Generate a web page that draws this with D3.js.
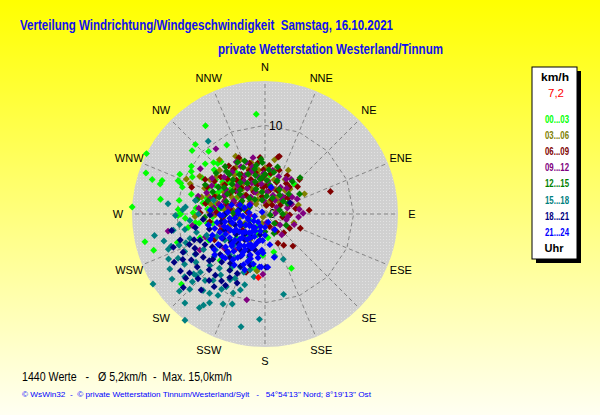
<!DOCTYPE html>
<html><head><meta charset="utf-8">
<script src="https://cdn.jsdelivr.net/npm/d3@7"></script>
<style>
html,body{margin:0;padding:0;overflow:hidden;background:#fff}
svg{display:block}
text{font-family:"Liberation Sans",Arial,Helvetica,sans-serif;white-space:pre}
</style>
</head><body>
<svg id="chart" width="600" height="415"></svg>
<script>
// ---------- DATA ----------
const titleText = "Verteilung Windrichtung/Windgeschwindigkeit  Samstag, 16.10.2021";
const subtitleText = "private Wetterstation Westerland/Tinnum";
const statsText = "1440 Werte   -   \u00D8 5,2km/h  -  Max. 15,0km/h";
const footerText = "\u00A9 WsWin32  -  \u00A9 private Wetterstation Tinnum/Westerland/Sylt   -   54\u00B054'13\" Nord; 8\u00B019'13\" Ost";
const directions = ["N","NNE","NE","ENE","E","ESE","SE","SSE","S","SSW","SW","WSW","W","WNW","NW","NNW"];
const speedMax = 15;
const speedTicks = [0, 10];
const legendUnit = "km/h";
const currentSpeedLabel = "7,2";
const legendBins = ["00...03","03...06","06...09","09...12","12...15","15...18","18...21","21...24"];
const legendFooter = "Uhr";

// [direction in degrees, speed in km/h], one array per 3-hour bin
const bin00_03 = [[355,11.3],[326,12.0],[315,11.1],[311,10.9],[331,8.9],[297,15.0],[318,9.5],[317,7.8],[320,7.7],[303,9.9],[311,7.6],[289,14.2],[287,13.3],[288,12.2],[286,12.3],[291,10.5],[290,10.1],[297,9.2],[278,11.9],[279,9.8],[273,15.0],[273,9.8],[307,6.0],[348,5.4],[257,13.9],[252,13.2],[230,12.3],[191,6.2],[183,4.7],[154,6.8],[44,4.7],[167,4.4],
  [320,6.1],[324,4.8],[292,6.3],[280,7.1],[271,8.1],[267,5.9],[280,4.4],[281,2.3],[353,1.9],[212,1.7],[224,7.3],[212,7.4],[288,9.8],[260,8.8],[252,10.4],[248,1.8],[299,3.7],[299,5.5],[327,3.5],[7,4.4],[261,6.6],[283,7.8],[239,3.9],[173,2.7],
  [267,9.0],[263,7.9],[269,9.8],[300,8.2],[285,8.6],[295,7.0],[275,6.5],[305,4.8],[265,3.5],[290,2.8],[315,5.2],[335,6.8],[340,3.0],[270,9.5],[262,7.5],[250,5.0],[245,7.0],[230,4.2],[220,3.0],[200,2.5],[310,3.2],[275,5.3],[285,4.0],[300,6.5],
  [285,6.8],[295,5.8],[305,6.8],[310,5.5],[318,4.5],[325,5.8],[330,4.0],[300,4.5],[290,6.0],[280,5.8],[275,7.8],[300,9.6],[310,8.8],[295,10.6],[315,8.2],[260,6.0],[250,7.8],[242,5.4]];
const bin03_06 = [[333,7.3],[294,9.7],[292,9.1],[340,5.4],[335,6.7],[10,6.2],[28,5.6],[30,3.0],[63,5.0],[49,2.1],[107,3.4],[188,6.5],
  [285,7.4],[293,7.4],[268,7.9],[214,0.4],[198,1.1],[72,1.4],[289,4.8],[314,3.1],[342,3.7],[316,5.3],[5,3.8],[40,3.5],[269,5.6],[279,2.9],[333,1.8],[253,4.1],[302,7.3],[75,3.9],[314,7.1],[210,3.4],
  [350,4.5],[355,2.6],[15,4.0],[20,1.5],[0,5.2],[325,4.2],[305,5.8],[295,3.0],[280,6.2],[310,2.2],[345,6.0],[30,4.5],[55,3.2],[90,2.4],[260,3.0],[300,8.5],[320,8.0],[275,4.5],[5,1.0],[340,2.5],[290,5.8],[265,7.0],[245,2.5],
  [283,5.5],[288,6.8],[297,4.2],[303,3.6],[308,6.9],[312,4.6],[318,3.8],[322,5.6],[328,6.2],[332,3.2],[338,4.8],[344,5.8],[348,3.5],[352,5.0],[358,3.2],[8,2.5],[12,5.0],[22,3.0],[35,2.2],[45,4.0],[277,3.6],[272,6.3],[298,5.2],[285,2.0],[318,1.5]];
const bin06_09 = [[325,6.2],[355,4.0],[327,4.6],[14,6.7],[355,6.4],[42,4.1],[51,2.9],[55,3.2],[71,7.8],[146,2.4],[135,3.0],[156,3.6],[149,4.1],[139,4.8],[198,6.9],
  [13,6.6],[271,7.3],[262,6.3],[301,4.6],[328,3.6],[345,3.4],[234,3.1],[12,2.8],[38,1.3],[301,2.0],[281,5.2],[268,3.4],[92,2.8],[112,4.3],[0,4.4],[306,5.6],[243,6.4],
  [340,5.2],[350,2.0],[20,3.8],[30,5.0],[60,2.0],[80,3.5],[100,2.0],[120,3.2],[160,1.5],[5,5.5],[315,3.0],[290,3.8],[280,6.8],[275,2.0],[335,7.0],[310,6.5],[25,1.8],[45,5.5],[355,3.0],[320,5.0],[300,7.8],[290,8.8],[265,4.8],[250,5.3],[85,5.0],[130,1.6],[10,1.0],
  [284,4.5],[289,6.0],[294,5.0],[298,3.0],[303,6.8],[308,4.2],[313,5.8],[318,4.0],[323,6.8],[329,5.2],[333,2.8],[338,4.2],[343,6.0],[347,4.8],[352,5.8],[358,5.0],[3,3.2],[8,4.6],[18,5.2],[28,3.0],[35,4.2],[50,4.8],[68,3.0],[278,4.0],[272,5.5],[295,7.2]];
const bin09_12 = [[323,9.2],[305,8.9],[304,7.2],[331,6.7],[5,3.7],[31,4.6],[37,4.9],[23,2.3],[58,3.6],[75,2.6],[82,3.9],[89,4.3],[97,2.6],[126,2.1],[141,3.0],[182,6.8],[192,9.9],[260,11.1],
  [261,8.3],[249,7.2],[191,3.0],[295,5.0],[333,4.9],[336,2.7],[286,6.4],[288,3.2],[36,1.9],[256,5.2],[266,1.7],[220,5.3],[241,8.4],
  [345,5.5],[355,1.5],[15,3.0],[45,2.8],[65,4.0],[110,3.5],[150,2.0],[170,1.0],[310,4.0],[320,2.5],[300,6.0],[280,4.2],[270,6.0],[350,4.2],[340,6.2],[10,5.0],[30,3.5],[60,1.5],[85,1.2],[325,3.5],[305,2.0],[275,7.5],[290,7.0],[230,6.0],[245,4.5],
  [282,5.3],[287,4.8],[293,3.8],[298,6.8],[302,5.2],[307,3.2],[312,6.2],[316,4.5],[322,6.0],[327,4.4],[333,6.0],[337,3.8],[342,5.0],[348,6.5],[353,3.4],[358,4.6],[5,2.5],[20,4.5],[40,3.8],[50,2.5],[70,3.2],[95,3.8],[105,2.5],[277,5.8],[285,7.8]];
const bin12_15 = [[339,6.4],[318,6.5],[356,6.2],[5,5.0],[355,4.1],[44,5.7],[118,2.7],[155,2.4],
  [352,2.5],[295,1.9],[267,6.8],[282,7.8],[300,6.1],[317,5.3],[348,1.6],[10,3.3],[38,2.7],[346,4.5],[314,3.9],[269,4.5],[101,0.6],[241,2.6],[75,1.7],[233,4.9],
  [330,4.0],[340,3.0],[0,4.5],[20,4.0],[25,2.0],[50,3.5],[60,4.5],[90,2.0],[135,1.5],[180,2.0],[305,4.5],[290,5.5],[280,3.0],[300,3.0],[320,7.0],[335,5.8],[350,5.6],[15,5.5],[275,6.0],[260,5.0],[285,2.5],[310,7.2],[325,2.0],[5,2.0],[40,4.8],
  [283,6.6],[288,4.6],[293,6.4],[298,4.8],[303,5.5],[308,3.6],[312,5.0],[318,6.0],[322,4.5],[327,5.3],[332,6.6],[337,4.9],[343,3.8],[347,5.2],[352,4.0],[357,5.8],[3,3.8],[12,4.8],[30,3.2],[55,2.5],[278,5.0],[272,3.6],[296,7.5],[315,2.5],[65,2.8]];
const bin15_18 = [[322,10.4],[276,11.0],[273,9.3],[269,10.1],[259,12.7],[250,11.6],[251,11.2],[250,10.3],[238,14.9],[227,11.2],[215,12.9],[214,12.4],[217,15.0],[205,11.2],[215,10.9],[202,9.6],[192,13.0],[183,11.9],[167,9.3],[167,4.9],[158,5.5],[208,9.3],[210,10.6],[219,11.1],[228,10.4],[200,5.2],[205,6.6],[183,4.4],
  [240,9.1],[238,10.7],[227,8.5],[216,8.5],[248,7.9],[252,8.9],[234,6.9],[208,8.4],[196,8.3],[259,9.2],[243,11.0],[222,10.1],[198,9.0],[225,12.0],[240,12.4],[221,6.1],[259,6.5],[281,8.0],[263,9.7],[237,5.4],[197,5.7],
  [230,7.5],[235,9.5],[245,10.0],[255,8.0],[265,8.5],[270,7.5],[212,7.0],[205,8.0],[190,7.2],[218,9.5],[228,9.8],[232,11.5],[245,6.0],[250,7.0],[225,5.0],[215,6.0],[200,7.0],[260,10.5],[275,9.0],[285,6.0],[240,8.0],[230,10.5],[210,9.8],[195,6.5],[220,8.0],
  [235,12.8],[222,13.5],[200,10.8],[245,12.0],[255,11.8],[228,13.0],[212,11.8],[250,9.5]];
const bin18_21 = [[260,10.7],[242,11.6],[228,12.4],[215,10.0],[231,11.5],[209,9.2],[202,8.4],[205,7.4],[209,8.2],[213,9.0],[179,6.0],[66,3.1],
  [245,10.2],[232,9.7],[225,8.9],[235,8.5],[229,7.8],[219,6.3],[241,10.6],[248,7.9],[235,6.2],[215,4.9],[248,4.9],[269,6.2],[196,6.0],[218,3.7],[250,3.6],[248,9.2],[219,8.9],[196,4.2],[193,2.4],[259,8.0],[243,7.6],[279,2.9],[253,10.0],[222,7.3],[234,2.1],
  [225,6.0],[230,5.0],[240,5.5],[210,5.5],[205,4.5],[200,5.0],[255,6.5],[260,5.0],[238,7.0],[228,6.8],[212,7.5],[220,9.8],[250,8.5],[265,7.0],[245,3.0],[235,4.0],[222,4.5],[215,6.8],[205,6.5],[240,9.0],[230,8.2],[258,4.0],[270,4.5],[225,3.2],[210,3.0],
  [238,9.8],[226,10.5],[244,8.8],[232,10.8],[220,11.2],[250,11.0],[236,11.5]];
const bin21_24 = [[13,3.1],[168,5.0],[184,6.0],[183,4.4],[177,6.0],[186,6.0],
  [269,5.1],[259,4.6],[245,4.3],[229,4.5],[219,4.5],[209,4.6],[200,4.9],[198,3.7],[212,3.2],[228,3.0],[246,3.1],[262,3.4],[273,4.2],[216,1.9],[191,3.0],[185,4.1],[189,5.0],[200,5.7],[212,5.8],[224,6.0],[237,6.3],[248,6.4],[259,6.5],[254,5.9],[241,5.6],[226,5.2],[209,5.3],[201,4.1],[180,2.4],[221,1.2],[257,2.0],[276,3.1],[285,3.9],[287,2.4],[304,0.4],[159,1.0],[171,3.5],[222,6.7],[231,7.3],[211,6.7],[200,6.7],[274,6.2],[148,2.1],[216,2.5],[224,3.7],[236,4.8],[248,5.5],
  [195,2.0],[205,2.8],[215,3.5],[225,4.0],[235,3.5],[240,2.5],[250,2.0],[255,3.8],[265,2.5],[270,3.0],[205,3.8],[210,5.0],[220,5.5],[230,5.8],[240,4.0],[250,4.5],[260,5.5],[233,2.2],[218,4.8],[208,4.0],[198,5.3],[190,4.5],[185,3.0],[195,3.3],[228,5.0],[243,5.0],[253,4.8],[263,4.0],[213,4.3],[203,6.2],[193,5.8],[222,2.0],[238,1.5],[258,1.2],[200,1.5],[180,1.5],[275,1.8],[245,6.8],[235,7.0],[225,6.8],[215,6.3],[268,4.8],[280,5.0],[290,3.0],[300,2.0],[230,3.3],[220,2.8],[210,2.2],[242,3.7],[252,3.0]];
const currentValue = [[186,7.2]];

// ---------- STYLE ----------
const binColors = ["#00ff00","#808000","#800000","#800080","#008000","#008080","#000080","#0000ff"];
const currentColor = "#ff0000";
const bins = [bin00_03,bin03_06,bin06_09,bin09_12,bin12_15,bin15_18,bin18_21,bin21_24];

const svg = d3.select("#chart");
const W = 600, H = 415;
const cx = 265, cy = 214, R = 133;

// background gradient
const defs = svg.append("defs");
const bg = defs.append("linearGradient").attr("id","bg").attr("x1",0).attr("y1",0).attr("x2",0).attr("y2",1);
bg.append("stop").attr("offset","0%").attr("stop-color","#ffff00");
bg.append("stop").attr("offset","100%").attr("stop-color","#fffff2");
const pat = defs.append("pattern").attr("id","dots").attr("width",3).attr("height",3).attr("patternUnits","userSpaceOnUse");
pat.append("rect").attr("width",3).attr("height",3).attr("fill","#d0d0d0");
pat.append("rect").attr("x",1).attr("y",1).attr("width",1).attr("height",1).attr("fill","#e2e2e2");
svg.append("rect").attr("width",W).attr("height",H).attr("fill","url(#bg)");

function fitText(sel, txt, x, y, size, weight, color, len, anchor){
  const t = sel.append("text").attr("x",x).attr("y",y).attr("font-size",size)
    .attr("font-weight",weight).attr("fill",color).text(txt);
  if (anchor) t.attr("text-anchor",anchor);
  if (len) t.attr("textLength",len).attr("lengthAdjust","spacingAndGlyphs");
  return t;
}
fitText(svg, titleText, 20, 30, 14, "bold", "#1010ee", 373);
fitText(svg, subtitleText, 218, 54, 14, "bold", "#1010ee", 225);

// polar scales
const r = d3.scaleLinear().domain([0, speedMax]).range([0, R]);
const angle = d3.scaleLinear().domain([0, 360]).range([0, 2*Math.PI]);
const g = svg.append("g").attr("transform",`translate(${cx},${cy})`);

g.append("circle").attr("r", r(speedMax)).attr("fill","url(#dots)");

// spokes
const dirAngles = directions.map((d,i)=> i*360/directions.length);
g.selectAll("line.spoke").data(dirAngles).join("line").attr("class","spoke")
  .attr("x1",0).attr("y1",0)
  .attr("x2",d=>d3.pointRadial(angle(d), r(speedMax))[0])
  .attr("y2",d=>d3.pointRadial(angle(d), r(speedMax))[1])
  .attr("stroke","#858585").attr("stroke-width",1).attr("stroke-dasharray","4,3");

// rings as polygons
const ringLine = d3.lineRadial().angle(d=>angle(d)).curve(d3.curveLinearClosed);
speedTicks.filter(t=>t>0).forEach(t=>{
  g.append("path").attr("d", ringLine.radius(r(t))(dirAngles))
    .attr("fill","none").attr("stroke","#858585").attr("stroke-width",1).attr("stroke-dasharray","4,3");
});

// direction labels
g.selectAll("text.dir").data(directions).join("text").attr("class","dir")
  .attr("x",(d,i)=>d3.pointRadial(angle(dirAngles[i]), R+14)[0])
  .attr("y",(d,i)=>d3.pointRadial(angle(dirAngles[i]), R+14)[1])
  .attr("dy","0.36em").attr("text-anchor","middle").attr("font-size",11).attr("fill","#000").text(d=>d);

// speed tick labels
g.selectAll("text.tick").data(speedTicks).join("text").attr("class","tick")
  .attr("x",4).attr("y",d=>-r(d)).attr("dy","0.36em")
  .attr("font-size",12).attr("fill","#000").text(d=>d);

// points
const marker = d3.symbol().type(d3.symbolSquare).size(24);
function drawPoints(data, color){
  g.append("g").selectAll("path").data(data).join("path")
    .attr("d", marker)
    .attr("transform", d=>{ const p = d3.pointRadial(angle(d[0]), r(d[1])); return `translate(${p[0]},${p[1]}) rotate(45)`; })
    .attr("fill", color);
}
bins.forEach((b,i)=>drawPoints(b, binColors[i]));
drawPoints(currentValue, currentColor);

// legend
const lx = 532, ly = 67, lw = 45, lh = 192;
svg.append("rect").attr("x",lx+4).attr("y",ly+4).attr("width",lw).attr("height",lh).attr("fill","#000");
svg.append("rect").attr("x",lx).attr("y",ly).attr("width",lw).attr("height",lh).attr("fill","#fff").attr("stroke","#000").attr("stroke-width",1);
fitText(svg, legendUnit, 555, 81, 11.5, "bold", "#000", 28, "middle");
fitText(svg, currentSpeedLabel, 556, 97, 11.5, "normal", currentColor, null, "middle");
legendBins.forEach((lab,i)=>{
  fitText(svg, lab, 557, 123 + i*16.1, 11, "bold", binColors[i], 24, "middle");
});
fitText(svg, legendFooter, 554, 252, 11, "bold", "#000", null, "middle");

// bottom texts
fitText(svg, statsText, 22, 381, 12, "normal", "#000", 210);
fitText(svg, footerText, 22, 397, 8, "normal", "#0000ff", 349);
</script>
</body></html>
